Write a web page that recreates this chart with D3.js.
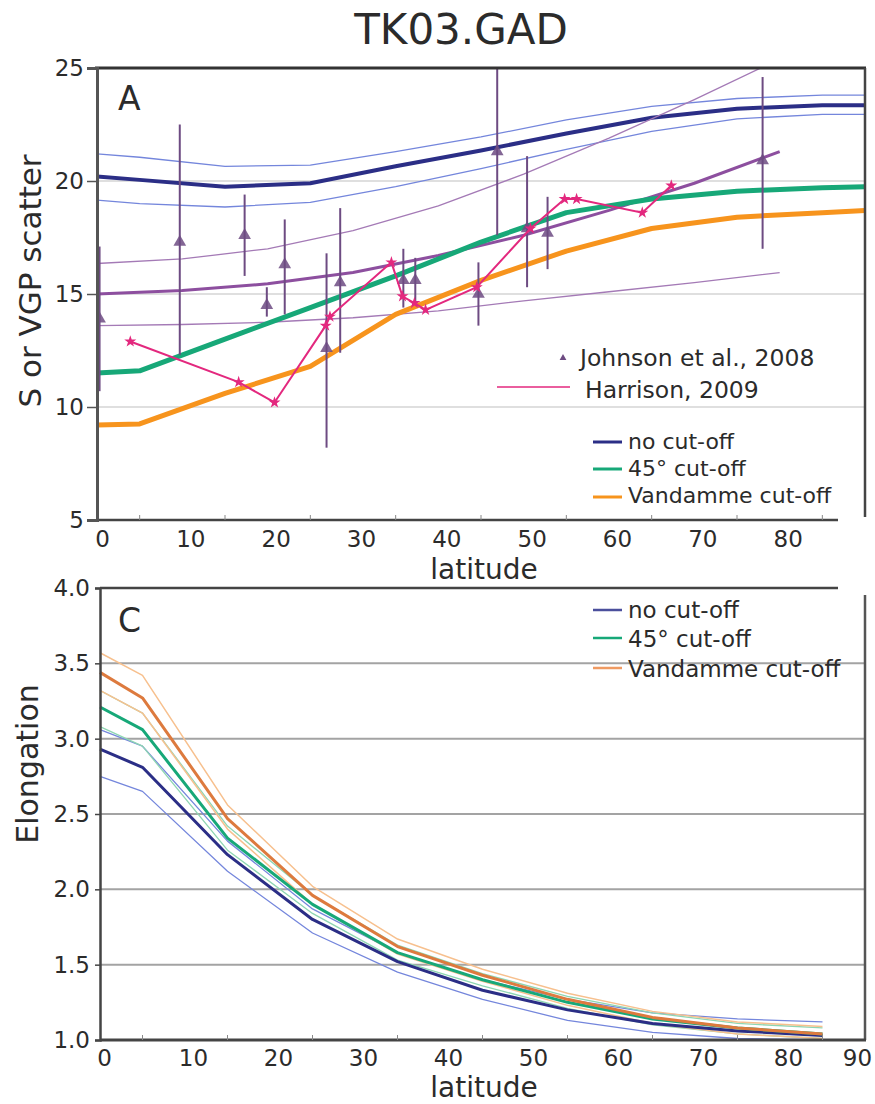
<!DOCTYPE html>
<html>
<head>
<meta charset="utf-8">
<script src="https://cdn.jsdelivr.net/npm/d3@7"></script>
<style>
  body { margin: 0; background: #fff; }
  text { font-family: "DejaVu Sans", sans-serif; fill: #2b2b2b; }
</style>
</head>
<body>
<script>
// ---- panel A data (S or VGP scatter vs latitude) ----
var latsA = [0, 5, 15, 25, 35, 45, 55, 65, 75, 85, 90];
var noCutA = [20.2, 20.05, 19.75, 19.9, 20.65, 21.35, 22.1, 22.8, 23.2, 23.35, 23.35];
var noCutAHi = [21.2, 21.05, 20.65, 20.7, 21.3, 21.95, 22.7, 23.3, 23.65, 23.8, 23.8];
var noCutALo = [19.15, 19.0, 18.85, 19.05, 19.75, 20.55, 21.4, 22.2, 22.75, 22.95, 22.95];
var cut45A = [11.5, 11.6, 13.0, 14.4, 15.8, 17.3, 18.6, 19.2, 19.55, 19.7, 19.75];
var vandA = [9.2, 9.25, 10.6, 11.8, 14.1, 15.6, 16.9, 17.9, 18.4, 18.6, 18.7];

var latsFit = [0, 10, 20, 30, 40, 50, 60, 70, 80];
var fitMid = [15.0, 15.15, 15.45, 15.95, 16.7, 17.6, 18.7, 19.9, 21.3];
var fitHi = [16.35, 16.55, 17.0, 17.8, 18.9, 20.3, 21.9, 23.6, 25.4];
var fitLo = [13.6, 13.65, 13.75, 13.95, 14.25, 14.7, 15.1, 15.5, 15.95];

// Johnson et al., 2008: [lat, value, low, high]
var johnson = [
  [0.3, 13.9, 10.7, 17.1],
  [9.7, 17.3, 12.3, 22.5],
  [17.3, 17.6, 15.8, 19.4],
  [19.9, 14.5, 14.0, 15.3],
  [22.0, 16.3, 14.1, 18.3],
  [26.9, 12.6, 8.2, 16.8],
  [28.5, 15.5, 12.4, 18.8],
  [35.9, 15.6, 14.4, 17.0],
  [37.3, 15.6, 14.6, 16.6],
  [44.7, 15.0, 13.6, 16.4],
  [46.9, 21.3, 17.6, 25.0],
  [50.4, 17.9, 15.3, 21.1],
  [52.8, 17.7, 16.1, 19.3],
  [78.0, 20.9, 17.0, 24.6]
];

// Harrison, 2009: [lat, value]
var harrison = [
  [3.9, 12.9], [16.6, 11.1], [20.8, 10.2], [26.8, 13.6], [27.3, 14.0],
  [34.5, 16.4], [35.8, 14.9], [37.2, 14.6], [38.5, 14.3], [44.5, 15.3],
  [50.8, 17.9], [54.8, 19.2], [56.2, 19.2], [63.9, 18.6], [67.3, 19.8]
];

var yTicksA = [5, 10, 15, 20, 25];
var xTicks = [0, 10, 20, 30, 40, 50, 60, 70, 80];
var xTicksC = [0, 10, 20, 30, 40, 50, 60, 70, 80, 90];

// ---- panel C data (elongation vs latitude) ----
var latsC = [0, 5, 15, 25, 35, 45, 55, 65, 75, 85];
var noCutC = [2.93, 2.81, 2.23, 1.80, 1.52, 1.33, 1.20, 1.11, 1.06, 1.03];
var noCutCHi = [3.06, 2.95, 2.32, 1.87, 1.58, 1.40, 1.27, 1.18, 1.14, 1.12];
var noCutCLo = [2.75, 2.65, 2.12, 1.71, 1.45, 1.27, 1.13, 1.05, 1.01, 1.00];
var cut45C = [3.21, 3.06, 2.34, 1.90, 1.58, 1.40, 1.25, 1.14, 1.08, 1.04];
var cut45CHi = [3.32, 3.17, 2.42, 1.96, 1.63, 1.44, 1.29, 1.18, 1.11, 1.08];
var cut45CLo = [3.08, 2.95, 2.26, 1.84, 1.53, 1.36, 1.21, 1.10, 1.04, 1.01];
var vandC = [3.44, 3.27, 2.47, 1.96, 1.62, 1.43, 1.27, 1.15, 1.08, 1.04];
var vandCHi = [3.57, 3.42, 2.56, 2.02, 1.67, 1.47, 1.31, 1.19, 1.12, 1.09];
var vandCLo = [3.32, 3.17, 2.40, 1.90, 1.57, 1.39, 1.23, 1.11, 1.04, 1.01];
var yTicksC = [1.0, 1.5, 2.0, 2.5, 3.0, 3.5, 4.0];

var NAVY = "#2b2e86", BLUE_THIN = "#7486dc", GREEN = "#17a878", ORANGE = "#f7941d";
var PURPLE = "#8d4f9f", PURPLE_THIN = "#a47ab6", JOHN = "#6d4b82", PINK = "#e3287e";
var ORANGE_C = "#dd7a3e", GREEN_THIN = "#8ed6b2", ORANGE_THIN = "#f7c08e";

var svg = d3.select("body").append("svg").attr("width", 875).attr("height", 1104);

svg.append("text").attr("x", 461).attr("y", 44).attr("text-anchor", "middle")
  .style("font-size", "42px").text("TK03.GAD");

// ================= panel A =================
var xA = d3.scaleLinear().domain([0, 90]).range([97, 865]);
var yA = d3.scaleLinear().domain([5, 25]).range([520, 68]);
var gA = svg.append("g");

svg.append("clipPath").attr("id", "clipA").append("rect")
  .attr("x", 97).attr("y", 68).attr("width", 768).attr("height", 452);

// gridlines
gA.selectAll(".gridA").data([10, 15, 20]).enter().append("line")
  .attr("x1", 97).attr("x2", 865)
  .attr("y1", function(d) { return yA(d); }).attr("y2", function(d) { return yA(d); })
  .style("stroke", "#d4d4d4").style("stroke-width", 1.5);

function lineA(xs, ys) {
  return d3.line().x(function(d, i) { return xA(xs[i]); }).y(function(d) { return yA(d); })(ys);
}

var plotA = gA.append("g").attr("clip-path", "url(#clipA)");

function pathA(xs, ys, color, w) {
  plotA.append("path").attr("d", lineA(xs, ys))
    .style("fill", "none").style("stroke", color).style("stroke-width", w)
    .style("stroke-linejoin", "round");
}

pathA(latsA, noCutAHi, BLUE_THIN, 1.3);
pathA(latsA, noCutALo, BLUE_THIN, 1.3);
pathA(latsA, noCutA, NAVY, 4);
pathA(latsFit, fitHi, PURPLE_THIN, 1.3);
pathA(latsFit, fitLo, PURPLE_THIN, 1.3);
pathA(latsFit, fitMid, PURPLE, 3);
pathA(latsA, cut45A, GREEN, 5);
pathA(latsA, vandA, ORANGE, 5);

// Johnson error bars + triangles
plotA.selectAll(".jbar").data(johnson).enter().append("line")
  .attr("x1", function(d) { return xA(d[0]); }).attr("x2", function(d) { return xA(d[0]); })
  .attr("y1", function(d) { return yA(d[3]); }).attr("y2", function(d) { return yA(d[2]); })
  .style("stroke", JOHN).style("stroke-width", 2);

var tri = d3.symbol().type(d3.symbolTriangle).size(70);
plotA.selectAll(".jtri").data(johnson).enter().append("path")
  .attr("d", tri)
  .attr("transform", function(d) { return "translate(" + xA(d[0]) + "," + yA(d[1]) + ")"; })
  .style("fill", JOHN).style("fill-opacity", 0.85);

// Harrison line
plotA.append("path")
  .attr("d", d3.line().x(function(d) { return xA(d[0]); }).y(function(d) { return yA(d[1]); })(harrison))
  .style("fill", "none").style("stroke", PINK).style("stroke-width", 2);
var star = d3.symbol().type(d3.symbolStar).size(45);
plotA.selectAll(".hpt").data(harrison).enter().append("path")
  .attr("d", star)
  .attr("transform", function(d) { return "translate(" + xA(d[0]) + "," + yA(d[1]) + ")"; })
  .style("fill", PINK);

// frame A
gA.append("line").attr("x1", 95).attr("x2", 866).attr("y1", 68).attr("y2", 68)
  .style("stroke", "#333").style("stroke-width", 3);
gA.append("line").attr("x1", 865).attr("x2", 865).attr("y1", 68).attr("y2", 517)
  .style("stroke", "#444").style("stroke-width", 2.5);
gA.append("line").attr("x1", 97).attr("x2", 838).attr("y1", 520).attr("y2", 520)
  .style("stroke", "#444").style("stroke-width", 2.5);

// axes A
var yAxisA = d3.axisLeft(yA).tickValues(yTicksA).tickSize(10).tickPadding(3).tickFormat(d3.format("d"));
var gyA = svg.append("g").attr("transform", "translate(97,0)").call(yAxisA);
gyA.select(".domain").style("stroke", "#555").style("stroke-width", 3);
gyA.selectAll(".tick line").style("stroke", "#555").style("stroke-width", 1.5);
gyA.selectAll("text").style("font-size", "23px").style("fill", "#2b2b2b").style("font-family", "DejaVu Sans");

var xAxisA = d3.axisBottom(xA).tickValues(xTicks).tickSize(0).tickPadding(11).tickFormat(d3.format("d"));
var gxA = svg.append("g").attr("transform", "translate(0,520)").call(xAxisA);
gxA.select(".domain").remove();
gxA.selectAll("text").style("font-size", "23px").style("fill", "#2b2b2b").style("font-family", "DejaVu Sans")
  .attr("dx", function(d) { return d === 0 ? 5 : 8; });

// small inward ticks at data latitudes
gA.selectAll(".mtA").data(latsA.slice(1, 10)).enter().append("line")
  .attr("x1", function(d) { return xA(d); }).attr("x2", function(d) { return xA(d); })
  .attr("y1", 520).attr("y2", 515)
  .style("stroke", "#888").style("stroke-width", 1);

svg.append("text").attr("x", 118).attr("y", 110).style("font-size", "33px").text("A");
svg.append("text").attr("x", 484).attr("y", 579).attr("text-anchor", "middle")
  .style("font-size", "28px").text("latitude");
svg.append("text").attr("transform", "translate(41,281) rotate(-90)").attr("text-anchor", "middle")
  .style("font-size", "31px").text("S or VGP scatter");

// legend A
svg.append("path").attr("d", d3.symbol().type(d3.symbolTriangle).size(20))
  .attr("transform", "translate(563,358)").style("fill", JOHN);
svg.append("text").attr("x", 580).attr("y", 366).style("font-size", "23.5px").text("Johnson et al., 2008");
svg.append("line").attr("x1", 497).attr("x2", 570).attr("y1", 387).attr("y2", 387)
  .style("stroke", PINK).style("stroke-width", 1.5);
svg.append("text").attr("x", 585).attr("y", 398).style("font-size", "23.5px").text("Harrison, 2009");

var legA = [
  { label: "no cut-off", color: NAVY, y: 442, base: 449 },
  { label: "45° cut-off", color: GREEN, y: 469, base: 476 },
  { label: "Vandamme cut-off", color: ORANGE, y: 497, base: 503 }
];
legA.forEach(function(l) {
  svg.append("line").attr("x1", 593).attr("x2", 622).attr("y1", l.y).attr("y2", l.y)
    .style("stroke", l.color).style("stroke-width", 3);
  svg.append("text").attr("x", 628).attr("y", l.base).style("font-size", "22px").text(l.label);
});

// ================= panel C =================
var xC = d3.scaleLinear().domain([0, 90]).range([100, 865]);
var yC = d3.scaleLinear().domain([1, 4]).range([1040, 588]);
var gC = svg.append("g");

gC.selectAll(".gridC").data([1.5, 2.0, 2.5, 3.0, 3.5]).enter().append("line")
  .attr("x1", 100).attr("x2", 865)
  .attr("y1", function(d) { return yC(d); }).attr("y2", function(d) { return yC(d); })
  .style("stroke", "#a3a3a3").style("stroke-width", 2);

function pathC(ys, color, w) {
  gC.append("path")
    .attr("d", d3.line().x(function(d, i) { return xC(latsC[i]); }).y(function(d) { return yC(d); })(ys))
    .style("fill", "none").style("stroke", color).style("stroke-width", w)
    .style("stroke-linejoin", "round");
}

pathC(noCutCHi, BLUE_THIN, 1.3);
pathC(noCutCLo, BLUE_THIN, 1.3);
pathC(cut45CHi, GREEN_THIN, 1.3);
pathC(cut45CLo, GREEN_THIN, 1.3);
pathC(vandCHi, ORANGE_THIN, 1.5);
pathC(vandCLo, ORANGE_THIN, 1.5);
pathC(noCutC, NAVY, 3);
pathC(cut45C, GREEN, 3);
pathC(vandC, ORANGE_C, 3);

// frame C
gC.append("line").attr("x1", 100).attr("x2", 838).attr("y1", 588).attr("y2", 588)
  .style("stroke", "#444").style("stroke-width", 2.5);
gC.append("line").attr("x1", 865).attr("x2", 865).attr("y1", 595).attr("y2", 1040)
  .style("stroke", "#555").style("stroke-width", 2.5);
gC.append("line").attr("x1", 100).attr("x2", 866).attr("y1", 1040).attr("y2", 1040)
  .style("stroke", "#444").style("stroke-width", 3);

var yAxisC = d3.axisLeft(yC).tickValues(yTicksC).tickSize(5).tickPadding(5).tickFormat(d3.format(".1f"));
var gyC = svg.append("g").attr("transform", "translate(100,0)").call(yAxisC);
gyC.select(".domain").style("stroke", "#444").style("stroke-width", 2.5);
gyC.selectAll(".tick line").style("stroke", "#444").style("stroke-width", 1.5);
gyC.selectAll("text").style("font-size", "23px").style("fill", "#2b2b2b").style("font-family", "DejaVu Sans");

var xAxisC = d3.axisBottom(xC).tickValues(xTicksC).tickSize(0).tickPadding(10).tickFormat(d3.format("d"));
var gxC = svg.append("g").attr("transform", "translate(0,1040)").call(xAxisC);
gxC.select(".domain").remove();
gxC.selectAll("text").style("font-size", "23px").style("fill", "#2b2b2b").style("font-family", "DejaVu Sans")
  .attr("dx", function(d) { return d === 0 ? 4 : (d === 90 ? -8 : 8); });

gC.selectAll(".mtC").data(latsC.slice(1)).enter().append("line")
  .attr("x1", function(d) { return xC(d); }).attr("x2", function(d) { return xC(d); })
  .attr("y1", 1040).attr("y2", 1035)
  .style("stroke", "#888").style("stroke-width", 1);

svg.append("text").attr("x", 118).attr("y", 632).style("font-size", "33px").text("C");
svg.append("text").attr("x", 484).attr("y", 1097).attr("text-anchor", "middle")
  .style("font-size", "28px").text("latitude");
svg.append("text").attr("transform", "translate(38,764) rotate(-90)").attr("text-anchor", "middle")
  .style("font-size", "30px").text("Elongation");

var legC = [
  { label: "no cut-off", color: "#4b4f9c", y: 610, base: 618 },
  { label: "45° cut-off", color: GREEN, y: 638, base: 647 },
  { label: "Vandamme cut-off", color: "#ef9a62", y: 668, base: 677 }
];
legC.forEach(function(l) {
  svg.append("line").attr("x1", 593).attr("x2", 622).attr("y1", l.y).attr("y2", l.y)
    .style("stroke", l.color).style("stroke-width", 2.5);
  svg.append("text").attr("x", 628).attr("y", l.base).style("font-size", "23px").text(l.label);
});
</script>
</body>
</html>
